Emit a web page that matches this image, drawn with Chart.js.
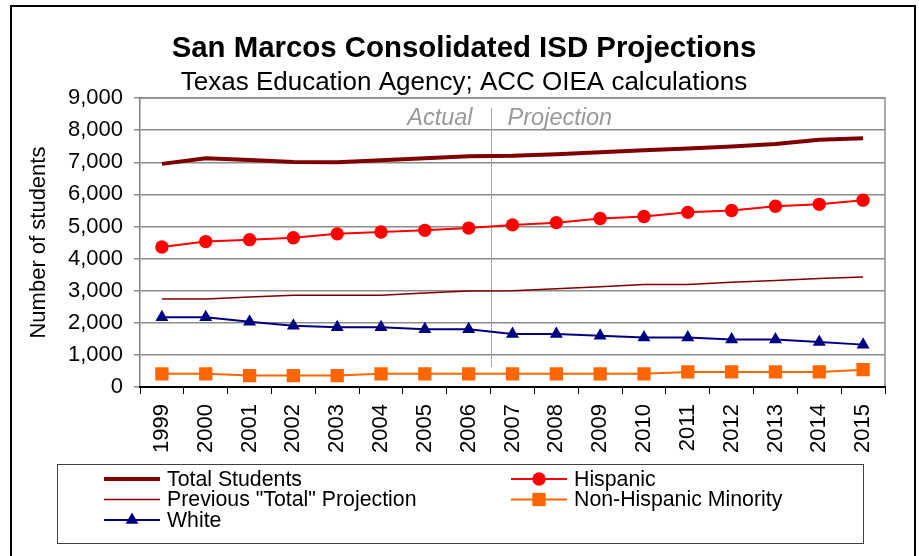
<!DOCTYPE html>
<html>
<head>
<meta charset="utf-8">
<script src="https://cdn.jsdelivr.net/npm/chart.js@4.4.1/dist/chart.umd.min.js"></script>
<style>
html,body{margin:0;padding:0;background:#fff;}
#wrap{width:919px;height:556px;position:relative;}
</style>
</head>
<body>
<div id="wrap"><canvas id="c" width="919" height="556"></canvas></div>
<script>
// ---- data ----
const years = ['1999','2000','2001','2002','2003','2004','2005','2006','2007','2008','2009','2010','2011','2012','2013','2014','2015'];
const totalStudents = [6950, 7125, 7070, 7010, 7000, 7060, 7125, 7190, 7200, 7250, 7310, 7375, 7430, 7490, 7570, 7700, 7750];
const hispanic = [4360, 4530, 4590, 4650, 4770, 4830, 4880, 4950, 5050, 5120, 5250, 5310, 5440, 5500, 5630, 5690, 5820];
const previousTotalProjection = [2740, 2740, 2800, 2860, 2860, 2860, 2930, 2990, 3000, 3060, 3120, 3190, 3190, 3260, 3320, 3380, 3430];
const nonHispanicMinority = [410, 410, 355, 355, 355, 410, 410, 410, 410, 410, 410, 410, 470, 470, 470, 470, 540];
const white = [2170, 2170, 2030, 1910, 1860, 1860, 1800, 1800, 1650, 1650, 1600, 1540, 1540, 1480, 1480, 1400, 1320];
const seriesNames = ['Total Students', 'Hispanic', 'Previous "Total" Projection', 'Non-Hispanic Minority', 'White'];
const titleText = 'San Marcos Consolidated ISD Projections';
const subtitleText = 'Texas Education Agency; ACC OIEA calculations';
const yAxisTitle = 'Number of students';
const phaseLabels = ['Actual', 'Projection'];
const lastActualYear = '2006';
const firstProjectionYear = '2007';
const yMin = 0, yMax = 9000, yStep = 1000;

const F = "'Liberation Sans', Arial, sans-serif";

// ---- plugins ----
const outerFrame = {
  id: 'outerFrame',
  beforeDraw(chart) {
    const ctx = chart.ctx;
    ctx.save();
    ctx.strokeStyle = '#000';
    ctx.lineWidth = 2;
    ctx.strokeRect(11, 6, 904, 600);
    ctx.restore();
  }
};

const plotFrame = {
  id: 'plotFrame',
  beforeDatasetsDraw(chart) {
    const {ctx, chartArea: a, scales} = chart;
    ctx.save();
    ctx.strokeStyle = '#8c8c8c';
    ctx.lineWidth = 1.5;
    ctx.beginPath();
    ctx.moveTo(a.left, a.top);
    ctx.lineTo(a.right, a.top);
    ctx.lineTo(a.right, a.bottom);
    ctx.stroke();
    // Actual / Projection divider
    const x = scales.x;
    const xd = (x.getPixelForValue(years.indexOf(lastActualYear)) + x.getPixelForValue(years.indexOf(firstProjectionYear))) / 2;
    ctx.strokeStyle = '#a6a6a6';
    ctx.lineWidth = 1;
    ctx.beginPath();
    ctx.moveTo(Math.round(xd) + 0.5, a.top + 10);
    ctx.lineTo(Math.round(xd) + 0.5, a.bottom - 20);
    ctx.stroke();
    ctx.font = "italic 23.5px " + F;
    ctx.fillStyle = '#999999';
    ctx.textBaseline = 'middle';
    ctx.textAlign = 'right';
    ctx.fillText(phaseLabels[0], xd - 18, a.top + 20);
    ctx.textAlign = 'left';
    ctx.fillText(phaseLabels[1], xd + 17, a.top + 20);
    ctx.restore();
  }
};

function drawMarker(ctx, style, r, x, y) {
  ctx.beginPath();
  if (style === 'circle') {
    ctx.arc(x, y, r, 0, Math.PI * 2);
  } else if (style === 'rect') {
    const s = r * Math.SQRT1_2;
    ctx.rect(x - s, y - s, 2 * s, 2 * s);
  } else if (style === 'triangle') {
    ctx.moveTo(x, y - r);
    ctx.lineTo(x + r * Math.sin(Math.PI / 3), y + r / 2);
    ctx.lineTo(x - r * Math.sin(Math.PI / 3), y + r / 2);
    ctx.closePath();
  }
  ctx.fill();
}

const boxLegend = {
  id: 'boxLegend',
  afterDraw(chart) {
    const ctx = chart.ctx;
    ctx.save();
    ctx.strokeStyle = '#404040';
    ctx.lineWidth = 1;
    ctx.strokeRect(57.5, 464.5, 806, 79);
    const colX = [104, 511];
    const rowY0 = 479, rowH = 20.5, sampleLen = 56;
    ctx.font = "21.3px " + F;
    ctx.textBaseline = 'middle';
    ctx.textAlign = 'left';
    chart.data.datasets.forEach((ds, i) => {
      const cx = colX[i % 2];
      const cy = rowY0 + Math.floor(i / 2) * rowH;
      ctx.strokeStyle = ds.borderColor;
      ctx.lineWidth = ds.borderWidth;
      ctx.beginPath();
      ctx.moveTo(cx, cy);
      ctx.lineTo(cx + sampleLen, cy);
      ctx.stroke();
      if (ds.pointRadius > 0) {
        ctx.fillStyle = ds.pointBackgroundColor;
        drawMarker(ctx, ds.pointStyle, ds.pointRadius, cx + sampleLen / 2, cy);
      }
      ctx.fillStyle = '#000';
      ctx.fillText(ds.label, cx + sampleLen + 7, cy + 1);
    });
    ctx.restore();
  }
};

const datasets = [
  {label: seriesNames[0], data: totalStudents, borderColor: '#800000', backgroundColor: '#800000', borderWidth: 4, pointRadius: 0, pointStyle: 'circle', pointBackgroundColor: '#800000'},
  {label: seriesNames[1], data: hispanic, borderColor: '#ff0000', backgroundColor: '#ff0000', borderWidth: 2, pointRadius: 6.7, pointStyle: 'circle', pointBackgroundColor: '#ff0000', pointBorderWidth: 0},
  {label: seriesNames[2], data: previousTotalProjection, borderColor: '#800000', backgroundColor: '#800000', borderWidth: 1.5, pointRadius: 0, pointStyle: 'circle', pointBackgroundColor: '#800000'},
  {label: seriesNames[3], data: nonHispanicMinority, borderColor: '#ff6600', backgroundColor: '#ff6600', borderWidth: 2, pointRadius: 9.4, pointStyle: 'rect', pointBackgroundColor: '#ff6600', pointBorderWidth: 0},
  {label: seriesNames[4], data: white, borderColor: '#000080', backgroundColor: '#000080', borderWidth: 2, pointRadius: 7.5, pointStyle: 'triangle', pointBackgroundColor: '#000080', pointBorderWidth: 0}
];
datasets.forEach(d => { d.tension = 0; d.fill = false; d.pointHoverRadius = d.pointRadius; });

new Chart(document.getElementById('c'), {
  type: 'line',
  data: {labels: years, datasets: datasets},
  plugins: [outerFrame, plotFrame, boxLegend],
  options: {
    responsive: false,
    animation: false,
    devicePixelRatio: 1,
    layout: {padding: {left: 43, right: 34, top: 0, bottom: 0}},
    plugins: {
      legend: {display: false},
      tooltip: {enabled: false},
      title: {display: true, text: titleText, color: '#000', font: {family: F, size: 29.4, weight: 'bold', lineHeight: 1.2}, padding: {top: 31.6, bottom: 0}},
      subtitle: {display: true, text: subtitleText, color: '#000', font: {family: F, size: 26, lineHeight: 1.2}, padding: {top: 0, bottom: 0}}
    },
    scales: {
      x: {
        offset: true,
        grid: {offset: true, drawOnChartArea: false, drawTicks: true, tickLength: 7, color: '#000', lineWidth: 1},
        border: {color: '#000', width: 2, z: 1},
        ticks: {minRotation: 90, maxRotation: 90, autoSkip: false, color: '#000', font: {family: F, size: 22}, padding: 10},
        afterFit(s) { s.height = 169; }
      },
      y: {
        min: yMin, max: yMax,
        ticks: {stepSize: yStep, color: '#000', font: {family: F, size: 22}, padding: 11,
          callback: v => v.toLocaleString('en-US')},
        grid: {color: '#8c8c8c', lineWidth: 1.5, tickLength: 6, drawTicks: true},
        border: {color: '#808080', width: 1.5},
        title: {display: true, text: yAxisTitle, color: '#000', font: {family: F, size: 22}, padding: {top: -17.5, bottom: 0}},
        afterFit(s) { s.width = 97; }
      }
    }
  }
});
</script>
</body>
</html>
